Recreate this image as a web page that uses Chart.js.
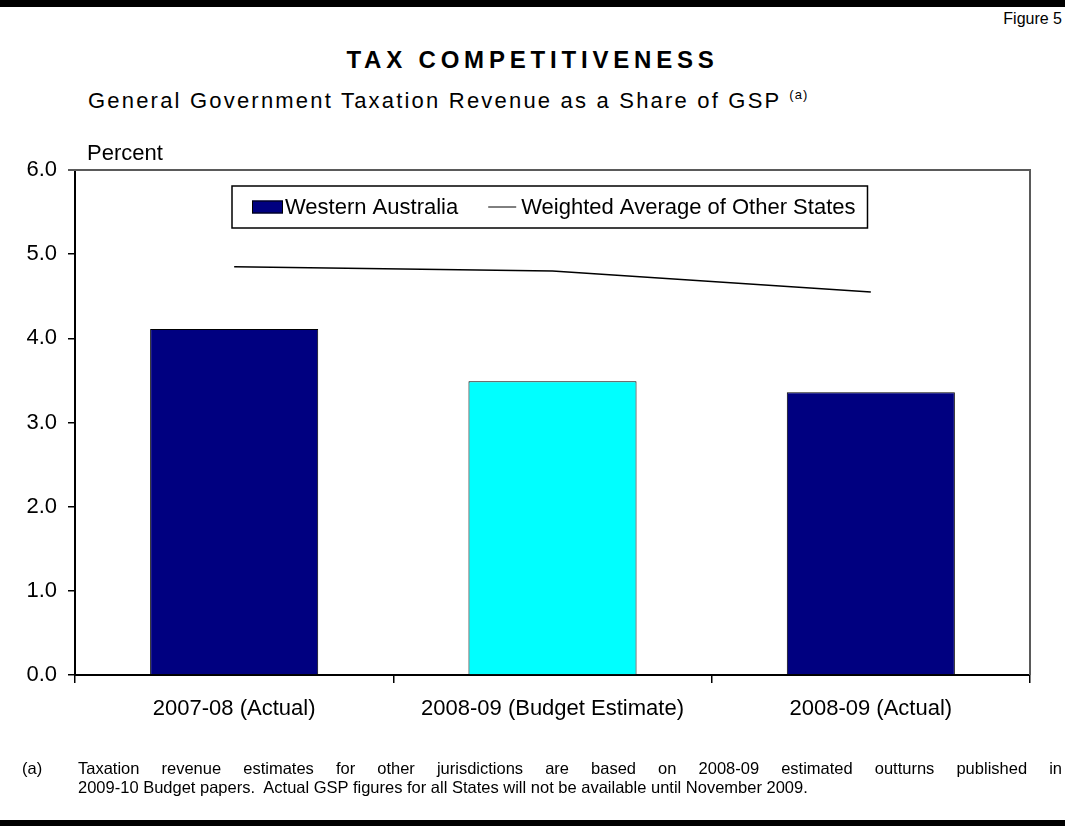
<!DOCTYPE html>
<html>
<head>
<meta charset="utf-8">
<title>Tax Competitiveness</title>
<script src="https://cdn.jsdelivr.net/npm/chart.js@4.4.0/dist/chart.umd.min.js"></script>
<style>
    html, body { margin: 0; padding: 0; background: #fff; }
    body {
        width: 1065px; height: 826px; position: relative; overflow: hidden;
        font-family: Arial, "Liberation Sans", Helvetica, sans-serif; color: #000;
    }
    .rule { position: absolute; left: 0; width: 1065px; background: #000; }
    .rule.top { top: 0; height: 7px; }
    .rule.bottom { top: 820px; height: 6px; }
    #figure-no { position: absolute; right: 3px; top: 10px; font-size: 16px; line-height: 18px; }
    #title {
        position: absolute; left: 0; width: 1065px; top: 45px; text-align: center;
        font-size: 24px; line-height: 30px; font-weight: bold; letter-spacing: 4.8px;
    }
    #subtitle {
        position: absolute; left: 88px; top: 80px; white-space: nowrap;
        font-size: 22px; line-height: 30px; letter-spacing: 2.2px;
    }
    #subtitle sup { font-size: 13px; letter-spacing: 1px; vertical-align: 9px; }
    #unit { position: absolute; left: 87px; top: 140px; font-size: 22px; line-height: 26px; }
    #chart-wrap { position: absolute; left: 0; top: 0; width: 1065px; height: 826px; }
    .note-tag { position: absolute; left: 22px; top: 758px; font-size: 16.5px; line-height: 20px; }
    .note-line {
        position: absolute; left: 78px; width: 984px; font-size: 16.5px; line-height: 20px; white-space: nowrap;
    }
    .note-line.first { top: 758px; text-align: justify; text-align-last: justify; white-space: normal; }
    .note-line.second { top: 777px; }
</style>
</head>
<body>
<div class="rule top"></div>
<div id="figure-no">Figure 5</div>
<div id="title">TAX COMPETITIVENESS</div>
<div id="subtitle">General Government Taxation Revenue as a Share of GSP <sup>(a)</sup></div>
<div id="chart-wrap"><canvas id="tax-chart"></canvas></div>
<div id="unit">Percent</div>
<div class="note-tag">(a)</div>
<div class="note-line first">Taxation revenue estimates for other jurisdictions are based on 2008-09 estimated outturns published in</div>
<div class="note-line second">2009-10 Budget papers.&nbsp; Actual GSP figures for all States will not be available until November 2009.</div>
<div class="rule bottom"></div>

<script>
// 数据
const categories = ['2007-08 (Actual)', '2008-09 (Budget Estimate)', '2008-09 (Actual)'];
const waShare = [4.11, 3.49, 3.36];
const otherStatesAvg = [4.85, 4.80, 4.55];
const barColours = ['#000080', '#00FFFF', '#000080'];
const yMin = 0;
const yMax = 6;
const yStep = 1;

const FONT = 'Arial, "Liberation Sans", Helvetica, sans-serif';

// 图例画在绘图区内，带边框
const insetLegend = {
    id: 'insetLegend',
    afterDatasetsDraw(chart) {
        const ctx = chart.ctx;
        const area = chart.chartArea;
        const ds = chart.data.datasets;
        const left = area.left + 157;
        const top = area.top + 16;
        const h = 42;
        const midY = top + h / 2;

        ctx.save();
        ctx.font = '22px ' + FONT;
        ctx.textBaseline = 'middle';

        // 柱状图例
        const swX = left + 20;
        ctx.fillStyle = ds[0].legendColour;
        ctx.fillRect(swX, midY - 6.5, 31, 13);
        ctx.strokeStyle = '#000';
        ctx.lineWidth = 1;
        ctx.strokeRect(swX + 0.5, midY - 6.5 + 0.5, 30, 12);
        ctx.fillStyle = '#000';
        const t1x = swX + 33;
        ctx.fillText(ds[0].label, t1x, midY + 1);
        const t1End = t1x + ctx.measureText(ds[0].label).width;

        // 折线图例
        const lnX = t1End + 30;
        ctx.beginPath();
        ctx.moveTo(lnX, midY);
        ctx.lineTo(lnX + 28, midY);
        ctx.strokeStyle = '#000';
        ctx.lineWidth = 1;
        ctx.stroke();
        const t2x = lnX + 33;
        ctx.fillText(ds[1].label, t2x, midY + 1);
        const t2End = t2x + ctx.measureText(ds[1].label).width;

        ctx.strokeStyle = '#000';
        ctx.lineWidth = 1.5;
        ctx.strokeRect(left, top, t2End + 12 - left, h);
        ctx.restore();
    }
};

// 绘图区上边和右边的灰色框线
const plotFrame = {
    id: 'plotFrame',
    afterDraw(chart) {
        const ctx = chart.ctx;
        const a = chart.chartArea;
        ctx.save();
        ctx.strokeStyle = '#5a5a5a';
        ctx.lineWidth = 2;
        ctx.beginPath();
        ctx.moveTo(a.left - 7, a.top);
        ctx.lineTo(a.right, a.top);
        ctx.lineTo(a.right, a.bottom);
        ctx.stroke();
        ctx.restore();
    }
};

function initChart() {
    if (typeof Chart === 'undefined') {
        console.warn('Chart.js not loaded');
        return;
    }
    const ctx = document.getElementById('tax-chart');
    new Chart(ctx, {
        type: 'bar',
        data: {
            labels: categories,
            datasets: [{
                type: 'bar',
                label: 'Western Australia',
                data: waShare,
                backgroundColor: barColours,
                legendColour: barColours[0],
                borderColor: '#000',
                borderWidth: 1,
                barPercentage: 0.528,
                categoryPercentage: 1.0,
                order: 2
            }, {
                type: 'line',
                label: 'Weighted Average of Other States',
                data: otherStatesAvg,
                borderColor: '#000',
                borderWidth: 1.5,
                pointRadius: 0,
                tension: 0,
                fill: false,
                order: 1
            }]
        },
        options: {
            responsive: true,
            maintainAspectRatio: false,
            animation: false,
            layout: {
                padding: { top: 170, left: 10, right: 35, bottom: 90 }
            },
            plugins: {
                legend: { display: false },
                tooltip: { enabled: false },
                title: { display: false }
            },
            scales: {
                x: {
                    offset: true,
                    grid: { offset: true, drawOnChartArea: false, drawTicks: true, tickLength: 8, color: '#000', lineWidth: 1.5 },
                    border: { color: '#000', width: 2 },
                    ticks: { color: '#000', font: { family: FONT, size: 22 }, padding: 13, maxRotation: 0 },
                    afterFit(scale) { scale.height = 61; }
                },
                y: {
                    min: yMin,
                    max: yMax,
                    grid: { drawOnChartArea: false, drawTicks: true, tickLength: 7, color: '#000', lineWidth: 1.5 },
                    border: { color: '#000', width: 2 },
                    ticks: {
                        stepSize: yStep,
                        color: '#000',
                        font: { family: FONT, size: 22 },
                        padding: 11,
                        callback: v => v.toFixed(1)
                    },
                    afterFit(scale) { scale.width = 65; }
                }
            }
        },
        plugins: [insetLegend, plotFrame]
    });
}

initChart();
</script>
</body>
</html>
